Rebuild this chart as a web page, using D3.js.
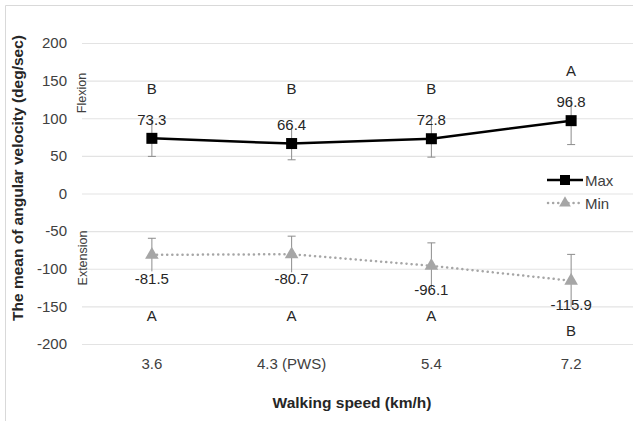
<!DOCTYPE html>
<html>
<head>
<meta charset="utf-8">
<script src="https://cdn.jsdelivr.net/npm/d3@7"></script>
<style>
  body { margin: 0; background: #fff; }
  svg { display: block; font-family: "Liberation Sans", Arial, sans-serif; }
</style>
</head>
<body>
<div id="chart"></div>
<script>
// Data
const speeds = ["3.6", "4.3 (PWS)", "5.4", "7.2"];
const maxValues = [73.3, 66.4, 72.8, 96.8];
const maxSd = [24, 21.6, 24.5, 31.8];
const maxLetters = ["B", "B", "B", "A"];
const minValues = [-81.5, -80.7, -96.1, -115.9];
const minSd = [22, 24, 30.5, 35];
const minLetters = ["A", "A", "A", "B"];
const yTicks = [200, 150, 100, 50, 0, -50, -100, -150, -200];

const W = 633, H = 421;
const FS = "15px";
const svg = d3.select("#chart").append("svg")
    .attr("width", W)
    .attr("height", H);

// chart area border (only top/left visible in the crop)
svg.append("path")
    .attr("d", `M5.5,${H} V5.5 H${W}`)
    .attr("fill", "none")
    .attr("stroke", "#d9d9d9")
    .attr("stroke-width", 1);

const x = d3.scaleBand().domain(speeds).range([82, 641]);
const y = d3.scaleLinear().domain([-200, 200]).range([344, 43]);
const cx = d => x(d) + x.bandwidth() / 2;

// Y axis with gridlines
const yAxis = svg.append("g")
    .attr("transform", "translate(82,0)")
    .call(d3.axisLeft(y).tickValues(yTicks).tickSize(-(W - 82)).tickPadding(15).tickFormat(d => String(d)));
yAxis.select(".domain").remove();
yAxis.selectAll("line").attr("stroke", "#e3e3e3").attr("stroke-width", 1.2);
yAxis.selectAll("text")
    .attr("fill", "#404040")
    .style("font-size", FS)
    .style("font-family", "Liberation Sans, Arial, sans-serif");

// X axis labels
const xAxis = svg.append("g")
    .attr("transform", "translate(0,344)")
    .call(d3.axisBottom(x).tickSize(0).tickPadding(14));
xAxis.select(".domain").remove();
xAxis.selectAll("text")
    .attr("fill", "#404040")
    .style("font-size", FS)
    .style("font-family", "Liberation Sans, Arial, sans-serif");

// Axis titles
svg.append("text")
    .attr("transform", "translate(23,178) rotate(-90)")
    .attr("text-anchor", "middle")
    .style("font-size", "15.5px")
    .style("font-weight", "bold")
    .attr("fill", "#262626")
    .text("The mean of angular velocity (deg/sec)");

svg.append("text")
    .attr("x", 352)
    .attr("y", 408)
    .attr("text-anchor", "middle")
    .style("font-size", "15.5px")
    .style("font-weight", "bold")
    .attr("fill", "#262626")
    .text("Walking speed (km/h)");

// Flexion / Extension side labels
svg.append("text")
    .attr("transform", "translate(86,93) rotate(-90)")
    .attr("text-anchor", "middle")
    .style("font-size", "12.5px")
    .attr("fill", "#404040")
    .text("Flexion");
svg.append("text")
    .attr("transform", "translate(87,258) rotate(-90)")
    .attr("text-anchor", "middle")
    .style("font-size", "12.5px")
    .attr("fill", "#404040")
    .text("Extension");

const maxData = speeds.map((s, i) => ({s, v: maxValues[i], sd: maxSd[i], letter: maxLetters[i]}));
const minData = speeds.map((s, i) => ({s, v: minValues[i], sd: minSd[i], letter: minLetters[i]}));

// Error bars (cap on the end toward zero)
function errorBars(data, dir) {
    const g = svg.append("g").attr("stroke", "#8c8c8c").attr("stroke-width", 1);
    data.forEach(d => {
        g.append("line")
            .attr("x1", cx(d.s)).attr("x2", cx(d.s))
            .attr("y1", y(d.v - d.sd)).attr("y2", y(d.v + d.sd));
        const capV = dir > 0 ? d.v - d.sd : d.v + d.sd;
        g.append("line")
            .attr("x1", cx(d.s) - 4).attr("x2", cx(d.s) + 4)
            .attr("y1", y(capV)).attr("y2", y(capV));
    });
}
errorBars(maxData, 1);
errorBars(minData, -1);

const line = d3.line().x(d => cx(d.s)).y(d => y(d.v));

// Min series (gray dotted, triangles)
svg.append("path")
    .datum(minData)
    .attr("d", line)
    .attr("fill", "none")
    .attr("stroke", "#a6a6a6")
    .attr("stroke-width", 2.5)
    .attr("stroke-linecap", "round")
    .attr("stroke-dasharray", "0.1,5");
const tri = d3.symbol().type(d3.symbolTriangle).size(80);
svg.selectAll(".tri")
    .data(minData)
    .enter().append("path")
    .attr("transform", d => `translate(${cx(d.s)},${y(d.v)})`)
    .attr("d", tri)
    .attr("fill", "#a6a6a6");

// Max series (black, squares)
svg.append("path")
    .datum(maxData)
    .attr("d", line)
    .attr("fill", "none")
    .attr("stroke", "#000")
    .attr("stroke-width", 2.5);
svg.selectAll(".sq")
    .data(maxData)
    .enter().append("rect")
    .attr("x", d => cx(d.s) - 5.5)
    .attr("y", d => y(d.v) - 5.5)
    .attr("width", 11)
    .attr("height", 11)
    .attr("fill", "#000");

// Value labels
const labelStyle = sel => sel
    .attr("text-anchor", "middle")
    .style("font-size", FS)
    .attr("fill", "#262626");

svg.selectAll(".maxlab")
    .data(maxData)
    .enter().append("text")
    .attr("x", d => cx(d.s))
    .attr("y", d => y(d.v) - 13.5)
    .call(labelStyle)
    .text(d => d.v.toFixed(1));

svg.selectAll(".minlab")
    .data(minData)
    .enter().append("text")
    .attr("x", d => cx(d.s))
    .attr("y", d => y(d.v) + 29.5)
    .call(labelStyle)
    .text(d => d.v.toFixed(1));

// Significance letters: one row per letter group, set from the group's extreme value
function letterRows(data, dir) {
    const groups = d3.group(data, d => d.letter);
    data.forEach(d => {
        const vals = groups.get(d.letter).map(e => e.v);
        const ext = dir > 0 ? d3.max(vals) : d3.min(vals);
        svg.append("text")
            .attr("x", cx(d.s))
            .attr("y", y(ext) - dir * 50 + 5.5)
            .call(labelStyle)
            .text(d.letter);
    });
}
letterRows(maxData, 1);
letterRows(minData, -1);

// Legend
const legend = svg.append("g").attr("transform", "translate(547,180)");
legend.append("line")
    .attr("x1", 0).attr("x2", 36).attr("y1", 0).attr("y2", 0)
    .attr("stroke", "#000").attr("stroke-width", 2.5);
legend.append("rect")
    .attr("x", 13).attr("y", -5).attr("width", 10).attr("height", 10)
    .attr("fill", "#000");
legend.append("text")
    .attr("x", 38).attr("y", 5.5)
    .style("font-size", FS).attr("fill", "#404040")
    .text("Max");

const legend2 = svg.append("g").attr("transform", "translate(547,203)");
legend2.append("line")
    .attr("x1", 1).attr("x2", 36).attr("y1", 0).attr("y2", 0)
    .attr("stroke", "#a6a6a6").attr("stroke-width", 2.5)
    .attr("stroke-linecap", "round")
    .attr("stroke-dasharray", "0.1,5");
legend2.append("path")
    .attr("transform", "translate(18,0)")
    .attr("d", d3.symbol().type(d3.symbolTriangle).size(60))
    .attr("fill", "#a6a6a6");
legend2.append("text")
    .attr("x", 38).attr("y", 5.5)
    .style("font-size", FS).attr("fill", "#404040")
    .text("Min");
</script>
</body>
</html>
